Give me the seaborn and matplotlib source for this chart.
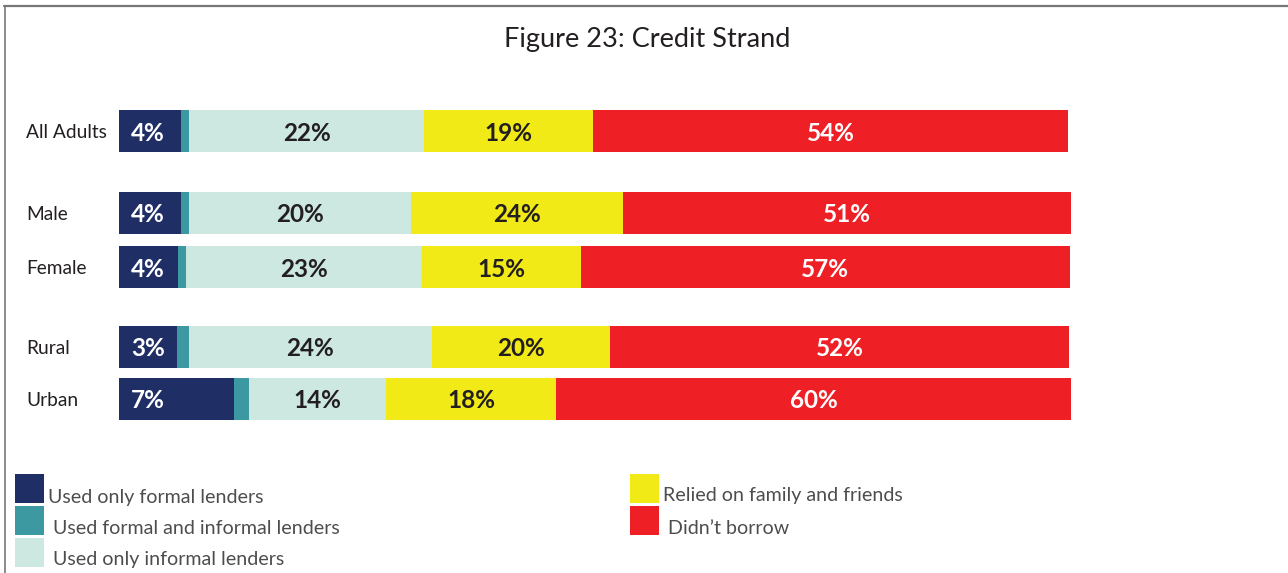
import numpy as np
import pandas as pd
import matplotlib
matplotlib.use("Agg")
import matplotlib.pyplot as plt
import matplotlib.transforms as mtransforms
from matplotlib.patches import Rectangle
from matplotlib.lines import Line2D
import seaborn as sns

# ---------------- data ----------------
groups = ["All Adults", "Male", "Female", "Rural", "Urban"]
row_pos = [0.0, 1.54, 2.56, 4.06, 5.04]
series = ["Used only formal lenders", "Used formal and informal lenders",
          "Used only informal lenders", "Relied on family and friends", "Didn\u2019t borrow"]
# segment widths as drawn (share of bar length, %)
formal_only = [6.5, 6.5, 6.2, 6.1, 12.1]
formal_informal = [0.9, 0.9, 0.9, 1.3, 1.6]
informal_only = [24.7, 23.3, 24.8, 25.5, 14.4]
family_friends = [17.8, 22.4, 16.7, 18.8, 17.9]
didnt_borrow = [50.0, 47.1, 51.5, 48.3, 54.2]
# printed labels
lbl_formal = ["4%", "4%", "4%", "3%", "7%"]
lbl_informal = ["22%", "20%", "23%", "24%", "14%"]
lbl_family = ["19%", "24%", "15%", "20%", "18%"]
lbl_didnt = ["54%", "51%", "57%", "52%", "60%"]

colors = ["#202E66", "#3C99A1", "#CDE8E1", "#F2EA17", "#EE1F25"]

# ---------------- figure ----------------
sns.set_theme(style="white")
plt.rcParams["font.family"] = ["Lato", "DejaVu Sans"]

W, H = 1288, 573
fig = plt.figure(figsize=(W / 100, H / 100), dpi=100)

def fx(px):
    return px / W

def fy(py):
    return 1 - py / H

ax_left, ax_right = 119, 1080
ax_top, ax_bot = 100, 430
ax = fig.add_axes([fx(ax_left), fy(ax_bot), fx(ax_right - ax_left), (ax_bot - ax_top) / H])

layers = [formal_only, formal_informal, informal_only, family_friends, didnt_borrow]
cum = np.cumsum(np.array(layers), axis=0)

df = pd.DataFrame({"group": groups, "pos": row_pos})
for i, name in enumerate(series):
    df[name] = cum[i]

bar_w = 0.80 / 0.98
for i in range(len(series) - 1, -1, -1):
    sns.barplot(data=df, x=series[i], y="pos", orient="y", native_scale=True,
                color=colors[i], saturation=1, errorbar=None, width=bar_w,
                linewidth=0, ax=ax)

ax.set_xlim(0, 100 * (ax_right - ax_left) / 950)
ax.set_ylim(5.04 + 31 / 53.17, 0 - 31 / 53.17)
for s in ax.spines.values():
    s.set_visible(False)
ax.set_xticks([])
ax.set_xlabel("")
ax.set_ylabel("")
ax.set_yticks(row_pos)
ax.set_yticklabels(groups, fontsize=13.8, color="#231F20")
for t in ax.get_yticklabels():
    t.set_horizontalalignment("left")
ax.tick_params(axis="y", length=0, pad=(ax_left - 26) * 72 / 100)

# value labels
lab_font = dict(fontsize=17.5, fontweight="bold", va="center_baseline")
off = mtransforms.offset_copy(ax.transData, fig=fig, x=12, y=0, units="dots")
for j, p in enumerate(row_pos):
    ax.text(0, p, lbl_formal[j], ha="left", color="white", transform=off, **lab_font)
    c_inf = cum[1][j] + informal_only[j] / 2
    ax.text(c_inf, p, lbl_informal[j], ha="center", color="#231F20", **lab_font)
    c_fam = cum[2][j] + family_friends[j] / 2
    ax.text(c_fam, p, lbl_family[j], ha="center", color="#231F20", **lab_font)
    c_dnb = cum[3][j] + didnt_borrow[j] / 2
    ax.text(c_dnb, p, lbl_didnt[j], ha="center", color="white", **lab_font)

# title
fig.text(fx(647), fy(39), "Figure 23: Credit Strand", ha="center", va="center",
         fontsize=19.5, color="#231F20")

# frame (top and left)
fig.add_artist(Line2D([fx(4), fx(1288)], [fy(6), fy(6)], color="#777777", lw=1.6))
fig.add_artist(Line2D([fx(4.5), fx(4.5)], [fy(6), fy(573)], color="#777777", lw=1.2))

# legend
leg_items = [
    (15, 474, 48, 497),
    (15, 506, 53, 529),
    (15, 538, 53, 560),
    (630, 474, 663, 496),
    (630, 506, 668, 529),
]
for i, (sx, sy, tx, ty) in enumerate(leg_items):
    fig.add_artist(Rectangle((fx(sx), fy(sy + 29)), 29 / W, 29 / H,
                             transform=fig.transFigure, facecolor=colors[i],
                             edgecolor="none"))
    fig.text(fx(tx), fy(ty), series[i], ha="left", va="center", fontsize=14.1,
             color="#4D4D4F")

fig.savefig("out.png", dpi=100)
